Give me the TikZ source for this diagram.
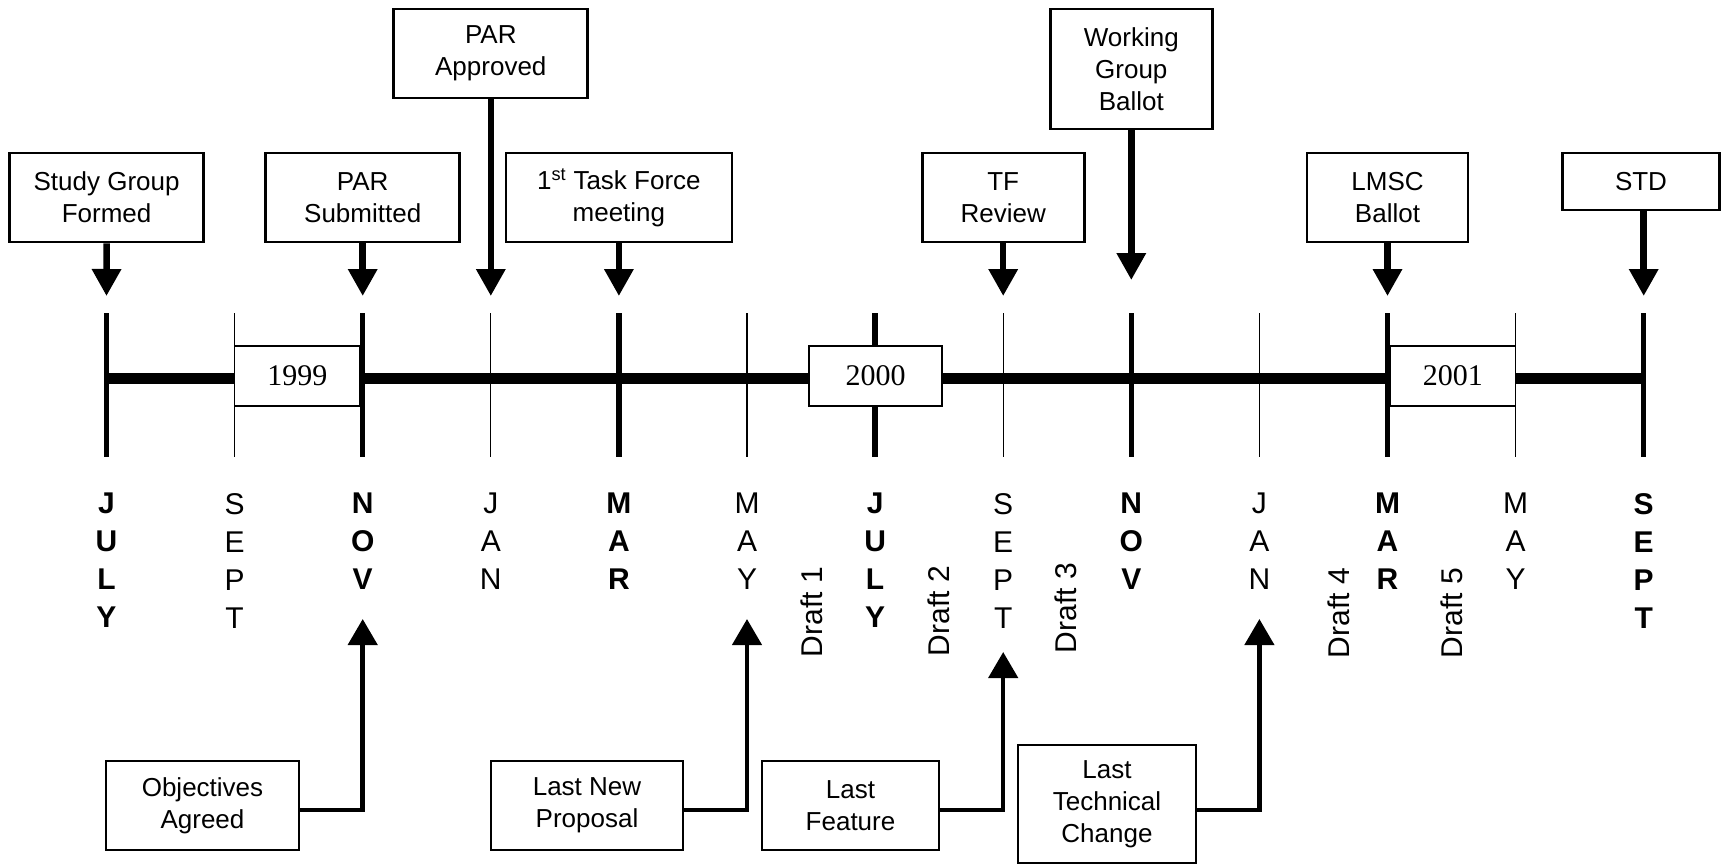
\documentclass[tikz,border=0pt]{standalone}
\usepackage{fontspec}
\setmainfont{Liberation Sans}
\newfontfamily\yearfont{Liberation Serif}
\usetikzlibrary{arrows.meta}
\begin{document}
\begin{tikzpicture}[x=1pt,y=-1pt,
  evbox/.style={draw, line width=2.8pt, fill=white, align=center, inner sep=0pt,
    font=\fontsize{26}{32}\selectfont, minimum height=89pt},
  yearbox/.style={draw, line width=1.3pt, fill=white, inner sep=0pt,
    font=\yearfont\fontsize{30}{36}\selectfont, minimum height=60pt},
  toparrow/.style={line width=6.5pt, -{Triangle[width=28pt,length=27pt]}},
  botarrow/.style={line width=4.5pt, -{Triangle[width=29pt,length=26pt]}},
  majortick/.style={line width=5.5pt},
  minortick/.style={line width=1.3pt},
  monthreg/.style={anchor=north, inner sep=0pt, align=center, font=\fontsize{30}{38}\selectfont},
  monthbold/.style={monthreg, font=\bfseries\fontsize{30}{38}\selectfont},
  draftlbl/.style={rotate=90, inner sep=0pt, font=\fontsize{30}{36}\selectfont}]
\useasboundingbox (0,0) rectangle (1722,865);
% main timeline
\draw[line width=10.5pt] (106.5,378.5) -- (1643.7,378.5);
% ticks
\foreach \x in {106.5,362.7,618.9,875.1,1131.3,1387.5,1643.7}
  \draw[majortick] (\x,313) -- (\x,457);
\foreach \x in {234.6,490.8,747.0,1003.2,1259.4,1515.6}
  \draw[minortick] (\x,313) -- (\x,457);
% year boxes
\node[yearbox, minimum width=125.4pt] (y1999) at (297.3,376) {1999};
\node[yearbox, minimum width=133pt] (y2000) at (875.5,376) {2000};
\node[yearbox, minimum width=125.6pt] (y2001) at (1452.8,376) {2001};
% month labels
\node[monthbold] (m1) at (106.5,493) {J\\U\\L\\Y};
\node[monthreg]  (m2) at (234.6,493) {S\\E\\P\\T};
\node[monthbold] (m3) at (362.7,493) {N\\O\\V};
\node[monthreg]  (m4) at (490.8,493) {J\\A\\N};
\node[monthbold] (m5) at (618.9,493) {M\\A\\R};
\node[monthreg]  (m6) at (747.0,493) {M\\A\\Y};
\node[monthbold] (m7) at (875.1,493) {J\\U\\L\\Y};
\node[monthreg]  (m8) at (1003.2,493) {S\\E\\P\\T};
\node[monthbold] (m9) at (1131.3,493) {N\\O\\V};
\node[monthreg]  (m10) at (1259.4,493) {J\\A\\N};
\node[monthbold] (m11) at (1387.5,493) {M\\A\\R};
\node[monthreg]  (m12) at (1515.6,493) {M\\A\\Y};
\node[monthbold] (m13) at (1643.7,493) {S\\E\\P\\T};
% drafts
\node[draftlbl] (d1) at (812,612) {Draft 1};
\node[draftlbl] (d2) at (939,611) {Draft 2};
\node[draftlbl] (d3) at (1066,608) {Draft 3};
\node[draftlbl] (d4) at (1339,613) {Draft 4};
\node[draftlbl] (d5) at (1452,613) {Draft 5};
% top event boxes
\node[evbox, minimum width=194pt] (sg) at (106.6,197.5) {Study Group\\Formed};
\node[evbox, minimum width=194pt] (pars) at (362.7,197.5) {PAR\\Submitted};
\node[evbox, minimum width=194pt] (para) at (490.8,53.5) {PAR\\Approved};
\node[evbox, minimum width=226pt] (tf1) at (618.9,197.5) {1\textsuperscript{st} Task Force\\meeting};
\node[evbox, minimum width=162pt] (tfr) at (1003.2,197.5) {TF\\Review};
\node[evbox, minimum width=162pt, minimum height=120pt] (wgb) at (1131.3,69) {Working\\Group\\Ballot};
\node[evbox, minimum width=161pt] (lmsc) at (1387.5,197.5) {LMSC\\Ballot};
\node[evbox, minimum width=157pt, minimum height=57pt] (std) at (1641,181.5) {STD};
% top arrow tips
\coordinate (tSG) at (106.5,296);
\coordinate (tPARS) at (362.7,296);
\coordinate (tPARA) at (490.8,296);
\coordinate (tTF1) at (618.9,296);
\coordinate (tTFR) at (1003.2,296);
\coordinate (tWGB) at (1131.3,280);
\coordinate (tLMSC) at (1387.5,296);
\coordinate (tSTD) at (1643.7,296);
\draw[toparrow] (sg.south) -- (tSG);
\draw[toparrow] (pars.south) -- (tPARS);
\draw[toparrow] (para.south) -- (tPARA);
\draw[toparrow] (tf1.south) -- (tTF1);
\draw[toparrow] (tfr.south) -- (tTFR);
\draw[toparrow] (wgb.south) -- (tWGB);
\draw[toparrow] (lmsc.south) -- (tLMSC);
\draw[toparrow] (std.south -| tSTD) -- (tSTD);
% bottom event boxes
\node[evbox, minimum width=193pt] (oa) at (202.5,805.5) {Objectives\\Agreed};
\node[evbox, minimum width=192pt] (lnp) at (587,805.5) {Last New\\Proposal};
\node[evbox, minimum width=177pt] (lf) at (850.5,805.5) {Last\\Feature};
\node[evbox, minimum width=178pt, minimum height=118pt] (ltc) at (1107,804) {Last\\Technical\\Change};
% bottom arrow tips
\coordinate (bNOV) at (362.7,619);
\coordinate (bMAY) at (747.0,619);
\coordinate (bSEPT) at (1003.2,652);
\coordinate (bJAN) at (1259.4,619);
\draw[botarrow] ([yshift=-4.5pt]oa.east) -| (bNOV);
\draw[botarrow] ([yshift=-4.5pt]lnp.east) -| (bMAY);
\draw[botarrow] ([yshift=-4.5pt]lf.east) -| (bSEPT);
\draw[botarrow] ([yshift=-6pt]ltc.east) -| (bJAN);
\end{tikzpicture}
\end{document}
